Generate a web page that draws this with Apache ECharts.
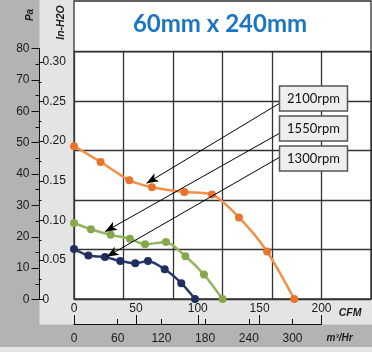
<!DOCTYPE html>
<html>
<head>
<meta charset="utf-8">
<script src="https://cdn.jsdelivr.net/npm/echarts@6/dist/echarts.min.js"></script>
<style>
  html, body { margin: 0; padding: 0; background: #e4e4e4; }
  #chart { width: 372px; height: 352px; }
</style>
</head>
<body>
<div id="chart"></div>
<script>
// 曲线数据：CFM / In-H2O
const cfm2100 = [0, 21.5, 44.7, 63, 89.2, 111.5, 133.3, 156, 178];
const p2100 = [0.193, 0.173, 0.150, 0.141, 0.135, 0.132, 0.103, 0.060, 0];
const cfm1550 = [0, 13.7, 29.6, 45.2, 57.4, 74.3, 90, 105, 120];
const p1550 = [0.096, 0.088, 0.081, 0.076, 0.069, 0.072, 0.054, 0.031, 0];
const cfm1300 = [0, 11.6, 25, 37.4, 49.5, 59.8, 73.3, 86.7, 97.8];
const p1300 = [0.063, 0.055, 0.053, 0.048, 0.045, 0.048, 0.0375, 0.020, 0];

const rpmLabels = ["2100rpm", "1550rpm", "1300rpm"];
// 箭头落在曲线上的位置（CFM, In-H2O）
const arrowTipCfm = [58.6, 25, 26.4];
const arrowTipP = [0.146, 0.085, 0.0534];

// 刻度
const paTicks = [0, 10, 20, 30, 40, 50, 60, 70, 80];
const inTicks = [0, 0.05, 0.10, 0.15, 0.20, 0.25, 0.30];
const cfmTicks = [0, 50, 100, 150, 200];
const m3hTicks = [0, 60, 120, 180, 240, 300];
const CFM_TO_M3H = 1.699;

const zip = (xs, ys) => xs.map((x, i) => [x, ys[i]]);
const pts = [zip(cfm2100, p2100), zip(cfm1550, p1550), zip(cfm1300, p1300)];
const lineColors = ["#f2904a", "#95b35c", "#27396a"];
const dotColors = ["#e8742c", "#86a84c", "#1e2f5e"];

const TXT = "#1a1a1a";
const FONT = "'Liberation Sans', Arial, sans-serif";

const chart = echarts.init(document.getElementById("chart"));

const boxes = [
  { y: 86, tail: 103 },
  { y: 116, tail: 133 },
  { y: 146, tail: 157 },
];

const series = pts.map((d, i) => ({
  name: rpmLabels[i],
  type: "line",
  xAxisIndex: 0,
  yAxisIndex: 0,
  data: d,
  smooth: 0.25,
  symbol: "circle",
  symbolSize: 8,
  lineStyle: { color: lineColors[i], width: 2.5 },
  itemStyle: { color: dotColors[i] },
  z: 3,
}));

// 标注箭头
series.push({
  type: "line",
  xAxisIndex: 0,
  yAxisIndex: 0,
  data: [],
  z: 6,
  markLine: {
    silent: true,
    animation: false,
    symbol: ["none", "arrow"],
    symbolSize: [7, 12],
    label: { show: false },
    lineStyle: { color: "#000", width: 1, type: "solid" },
    emphasis: { disabled: true },
    data: boxes.map((b, i) => [
      { x: 280, y: b.tail },
      { coord: [arrowTipCfm[i], arrowTipP[i]] },
    ]),
  },
});

const graphic = [
  // 背景色带
  { type: "rect", z: -10, shape: { x: 0, y: 0, width: 39.5, height: 347 }, style: { fill: "#b3b3b3" } },
  { type: "rect", z: -10, shape: { x: 0, y: 324.5, width: 372, height: 22.5 }, style: { fill: "#b3b3b3" } },
  // 标题格
  { type: "rect", z: 1, shape: { x: 74, y: 1, width: 297, height: 50.5 },
    style: { fill: "#fff", stroke: "#333", lineWidth: 1.3 } },
  { type: "text", z: 2, x: 220, y: 24,
    style: { text: "60mm x 240mm", font: "bold 24px Lato, sans-serif", fill: "#1b75c4",
      align: "center", verticalAlign: "middle" } },
  // 轴标题
  { type: "text", z: 2, x: 30.5, y: 15, rotation: Math.PI / 2,
    style: { text: "Pa", font: "italic bold 10px " + FONT, fill: TXT, align: "center", verticalAlign: "middle" } },
  { type: "text", z: 2, x: 61.5, y: 22.5, rotation: Math.PI / 2,
    style: { text: "In-H2O", font: "italic bold 10.5px " + FONT, fill: TXT, align: "center", verticalAlign: "middle" } },
  { type: "text", z: 2, x: 350, y: 313.5,
    style: { text: "CFM", font: "italic bold 10.5px " + FONT, fill: TXT, align: "center", verticalAlign: "middle" } },
  { type: "text", z: 2, x: 339.5, y: 338,
    style: { text: "m³/Hr", font: "italic bold 10px " + FONT, fill: TXT, align: "center", verticalAlign: "middle" } },
];

boxes.forEach((b, i) => {
  graphic.push({
    type: "rect", z: 10,
    shape: { x: 279.5, y: b.y, width: 68, height: 25 },
    style: { fill: "#eeeeee", stroke: "#555", lineWidth: 1.5 },
  });
  graphic.push({
    type: "text", z: 11, x: 313.5, y: b.y + 12.5,
    style: { text: rpmLabels[i], font: "13px Lato, sans-serif", fill: "#111",
      align: "center", verticalAlign: "middle" },
  });
});

const hidden = { show: false };

chart.setOption({
  animation: false,
  backgroundColor: "#e4e4e4",
  graphic: graphic,
  grid: [
    { left: 74, top: 51.5, width: 297, height: 247.5, show: true,
      backgroundColor: "#fff", borderColor: "#333", borderWidth: 1.3 },
    { left: 39.5, top: 48.5, width: 1, height: 251 },
    { left: 38.5, top: 62, width: 1, height: 237.5 },
    { left: 74, top: 324, width: 247.5, height: 0 },
  ],
  xAxis: [
    { gridIndex: 0, type: "value", min: 0, max: 240, interval: 40,
      axisLine: hidden, axisTick: hidden, axisLabel: hidden,
      splitLine: { show: true, lineStyle: { color: "#333", width: 1.3 } } },
    { gridIndex: 1, type: "value", show: false },
    { gridIndex: 2, type: "value", show: false },
    { gridIndex: 3, type: "value", position: "top", min: 0, max: 200,
      axisLine: { show: true, lineStyle: { color: "#111", width: 1 } },
      axisTick: { show: true, length: 9, customValues: cfmTicks, lineStyle: { color: "#111" } },
      axisLabel: { customValues: cfmTicks, margin: 9, fontSize: 12, fontFamily: FONT, color: TXT },
      splitLine: hidden },
    { gridIndex: 3, type: "value", position: "bottom", min: 0, max: 200 * CFM_TO_M3H,
      axisLine: hidden,
      axisTick: { show: true, inside: true, length: 5, customValues: m3hTicks, lineStyle: { color: "#111" } },
      axisLabel: { customValues: m3hTicks, margin: 9, fontSize: 12, fontFamily: FONT, color: TXT },
      splitLine: hidden },
  ],
  yAxis: [
    { gridIndex: 0, type: "value", min: 0, max: 0.3125, interval: 0.0625,
      axisLine: hidden, axisTick: hidden, axisLabel: hidden,
      splitLine: { show: true, lineStyle: { color: "#333", width: 1.3 } } },
    { gridIndex: 1, type: "value", position: "left", min: 0, max: 80, interval: 10,
      axisLine: { show: true, lineStyle: { color: "#111", width: 1 } },
      axisTick: { show: true, length: 8, customValues: paTicks, lineStyle: { color: "#111" } },
      minorTick: { show: true, splitNumber: 2, length: 4, lineStyle: { color: "#111" } },
      axisLabel: { customValues: paTicks, margin: 10, fontSize: 12, fontFamily: FONT, color: TXT },
      splitLine: hidden, minorSplitLine: hidden },
    { gridIndex: 2, type: "value", position: "right", min: 0, max: 0.30, interval: 0.05,
      axisLine: hidden,
      axisTick: { show: true, length: 5, customValues: inTicks, lineStyle: { color: "#111" } },
      minorTick: { show: true, splitNumber: 2, length: 3, lineStyle: { color: "#111" } },
      axisLabel: { customValues: inTicks, margin: 3, fontSize: 12, fontFamily: FONT, color: TXT,
        formatter: v => (v === 0 ? "0" : v.toFixed(2)) },
      splitLine: hidden, minorSplitLine: hidden },
    { gridIndex: 3, type: "value", show: false },
  ],
  series: series,
});
</script>
</body>
</html>
